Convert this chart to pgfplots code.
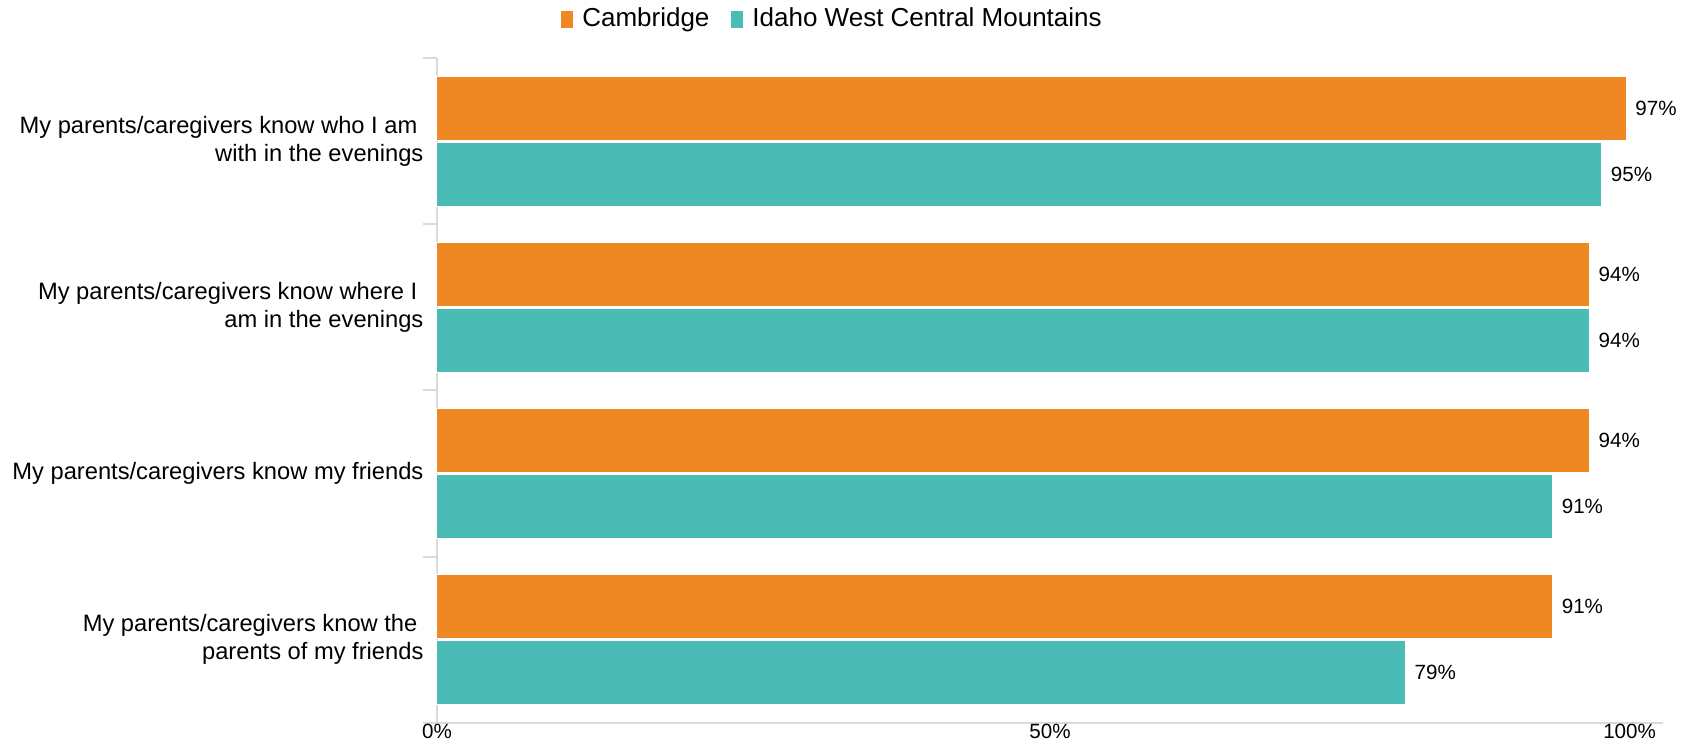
\documentclass[border=0pt]{standalone}
\usepackage{pgfplots}
\pgfplotsset{compat=1.18}
\usepackage{fontspec}
\setmainfont{Liberation Sans}
\definecolor{cOrange}{HTML}{EF8723}
\definecolor{cTeal}{HTML}{4BBBB5}
\definecolor{cAxis}{HTML}{DADADA}
\begin{document}
\begin{tikzpicture}
\path[use as bounding box] (-218.5pt,-12pt) rectangle (627.5pt,361.5pt);
\begin{axis}[
  scale only axis,
  width=613pt, height=332.5pt,
  xmin=0, xmax=100,
  ymin=-0.5, ymax=3.5,
  clip=false,
  xbar, bar width=32pt,
  axis x line*=bottom, axis y line*=left,
  axis line style={cAxis, line width=1pt},
  xtick={0,50}, xticklabels={0\%,50\%},
  extra x ticks={100}, extra x tick labels={100\%},
  extra x tick style={xticklabel style={anchor=north east, xshift=0pt}},
  xticklabel style={font=\fontsize{10.3}{12}\selectfont, yshift=4.8pt, inner ysep=1pt},
  major x tick style={draw=none},
  ytick={0,1,2,3},
  yticklabels={{My parents/caregivers know the\hspace*{3pt}\\parents of my friends},
               {My parents/caregivers know my friends},
               {My parents/caregivers know where I\hspace*{3pt}\\am in the evenings},
               {My parents/caregivers know who I am\hspace*{3pt}\\with in the evenings}},
  yticklabel style={font=\fontsize{11.85}{14}\selectfont, align=right, xshift=1pt},
  major y tick style={draw=none},
  minor ytick={-0.5,0.5,1.5,2.5,3.5},
  minor y tick style={cAxis, line width=1pt},
  minor tick length=7pt,
  tick align=outside,
  nodes near coords={\pgfmathprintnumber[assume math mode=true]{\pgfplotspointmeta}\%},
  point meta=x,
  nodes near coords style={font=\fontsize{10.3}{12}\selectfont, color=black, xshift=1pt},
  legend style={draw=none, fill=none, at={(0.323,1.0586)}, anchor=center,
    font=\fontsize{13}{15}\selectfont, legend columns=-1,
    /tikz/every even column/.append style={column sep=8.5pt}},
  legend image code/.code={\fill[#1] (0pt,-4.5pt) rectangle (6.5pt,4.5pt);},
  legend cell align=left,
]
\addplot[fill=cOrange, draw=white, line width=0.5pt, bar shift=16.5pt]
  coordinates {(91,0) (94,1) (94,2) (97,3)};
\addlegendentry{\hspace*{2pt}Cambridge}
\addplot[fill=cTeal, draw=white, line width=0.5pt, bar shift=-16.5pt]
  coordinates {(79,0) (91,1) (94,2) (95,3)};
\addlegendentry{\hspace*{2pt}Idaho West Central Mountains}
\end{axis}
\end{tikzpicture}
\end{document}
